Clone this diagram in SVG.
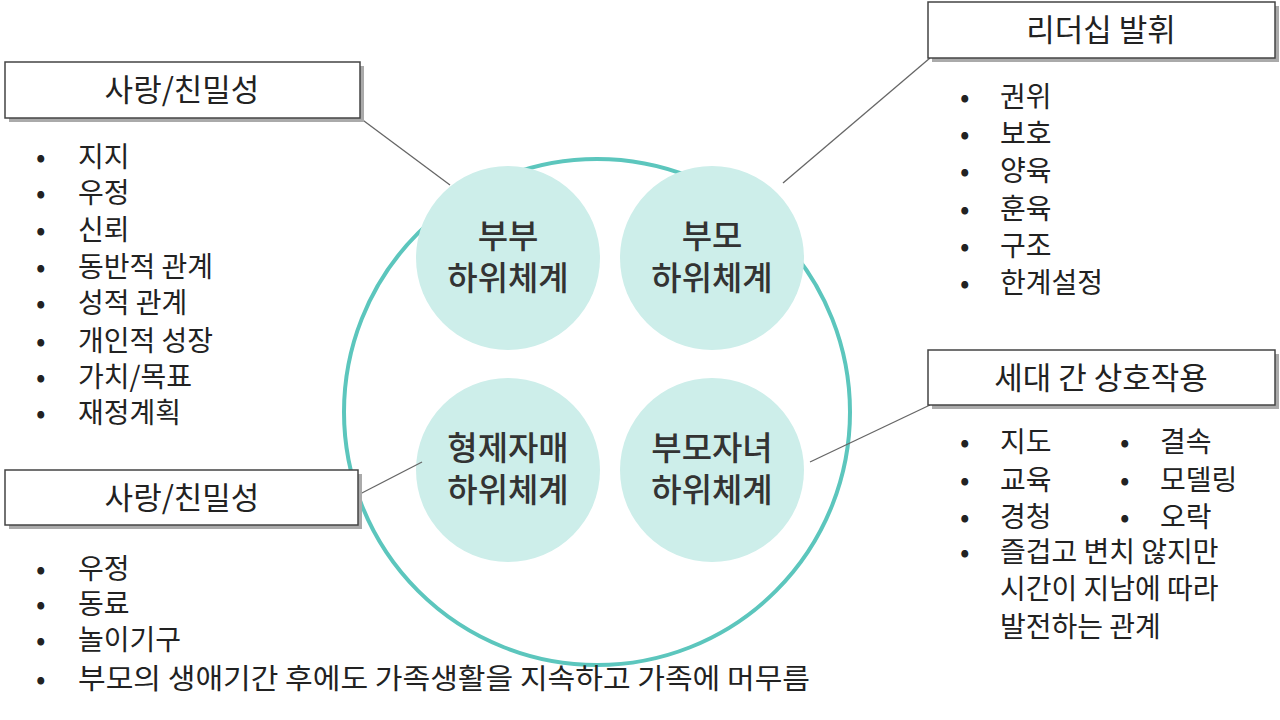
<svg xmlns="http://www.w3.org/2000/svg" width="1280" height="720" viewBox="0 0 1280 720">
<style>
text{font-family:"Noto Sans CJK KR","Noto Sans",sans-serif;fill:#222}
.t{font-size:28px}
.h{font-size:31px;text-anchor:middle}
.c{font-size:33px;text-anchor:middle;font-weight:500;fill:#333}
.box{fill:#fff;stroke:#444;stroke-width:1.5}
.sh{fill:#aaa}
.sc{fill:#cdeeea}
.ln{stroke:#666;stroke-width:1.3}
</style>
<rect width="1280" height="720" fill="#fff"/>
<g id="big"><circle cx="597" cy="412" r="253" fill="none" stroke="#5cc6bd" stroke-width="4"/></g>
<g id="n1"><circle class="sc" cx="508" cy="258" r="92"/><text class="c" x="508" y="248">부부</text><text class="c" x="508" y="290">하위체계</text></g>
<g id="n2"><circle class="sc" cx="712" cy="258" r="92"/><text class="c" x="712" y="248">부모</text><text class="c" x="712" y="290">하위체계</text></g>
<g id="n3"><circle class="sc" cx="508" cy="470" r="92"/><text class="c" x="508" y="460">형제자매</text><text class="c" x="508" y="502">하위체계</text></g>
<g id="n4"><circle class="sc" cx="712" cy="470" r="92"/><text class="c" x="712" y="460">부모자녀</text><text class="c" x="712" y="502">하위체계</text></g>
<g id="connectors">
<line class="ln" x1="360" y1="118" x2="450" y2="185"/>
<line class="ln" x1="930" y1="58" x2="783" y2="183"/>
<line class="ln" x1="358" y1="495" x2="422" y2="462"/>
<line class="ln" x1="930" y1="405" x2="810" y2="462"/>
</g>
<g id="b1"><rect class="sh" x="9" y="66" width="355" height="56"/><rect class="box" x="5" y="62" width="355" height="56"/><text class="h" x="182" y="101">사랑/친밀성</text></g>
<g id="b2"><rect class="sh" x="9" y="474" width="353" height="55"/><rect class="box" x="5" y="470" width="353" height="55"/><text class="h" x="182" y="509">사랑/친밀성</text></g>
<g id="b3"><rect class="sh" x="932" y="6" width="347" height="56"/><rect class="box" x="928" y="2" width="347" height="56"/><text class="h" x="1101" y="41">리더십 발휘</text></g>
<g id="b4"><rect class="sh" x="932" y="354" width="347" height="55"/><rect class="box" x="928" y="350" width="347" height="55"/><text class="h" x="1101" y="389">세대 간 상호작용</text></g>
<g id="l1" class="t">
<text x="36" y="167">•</text><text x="78" y="167">지지</text>
<text x="36" y="203">•</text><text x="78" y="203">우정</text>
<text x="36" y="240">•</text><text x="78" y="240">신뢰</text>
<text x="36" y="277">•</text><text x="78" y="277">동반적 관계</text>
<text x="36" y="313">•</text><text x="78" y="313">성적 관계</text>
<text x="36" y="351">•</text><text x="78" y="351">개인적 성장</text>
<text x="36" y="387">•</text><text x="78" y="387">가치/목표</text>
<text x="36" y="423">•</text><text x="78" y="423">재정계획</text>
</g>
<g id="l2" class="t">
<text x="36" y="579">•</text><text x="78" y="579">우정</text>
<text x="36" y="614">•</text><text x="78" y="614">동료</text>
<text x="36" y="650">•</text><text x="78" y="650">놀이기구</text>
<text x="36" y="689">•</text><text x="78" y="689" textLength="732" lengthAdjust="spacingAndGlyphs">부모의 생애기간 후에도 가족생활을 지속하고 가족에 머무름</text>
</g>
<g id="l3" class="t">
<text x="960" y="107">•</text><text x="1000" y="107">권위</text>
<text x="960" y="144">•</text><text x="1000" y="144">보호</text>
<text x="960" y="181">•</text><text x="1000" y="181">양육</text>
<text x="960" y="219">•</text><text x="1000" y="219">훈육</text>
<text x="960" y="256">•</text><text x="1000" y="256">구조</text>
<text x="960" y="293">•</text><text x="1000" y="293">한계설정</text>
</g>
<g id="l4" class="t">
<text x="960" y="452">•</text><text x="1000" y="452">지도</text>
<text x="960" y="490">•</text><text x="1000" y="490">교육</text>
<text x="960" y="527">•</text><text x="1000" y="527">경청</text>
<text x="1120" y="452">•</text><text x="1160" y="452">결속</text>
<text x="1120" y="490">•</text><text x="1160" y="490">모델링</text>
<text x="1120" y="527">•</text><text x="1160" y="527">오락</text>
<text x="960" y="562">•</text><text x="1000" y="562">즐겁고 변치 않지만</text>
<text x="1000" y="599">시간이 지남에 따라</text>
<text x="1000" y="637">발전하는 관계</text>
</g>
</svg>
